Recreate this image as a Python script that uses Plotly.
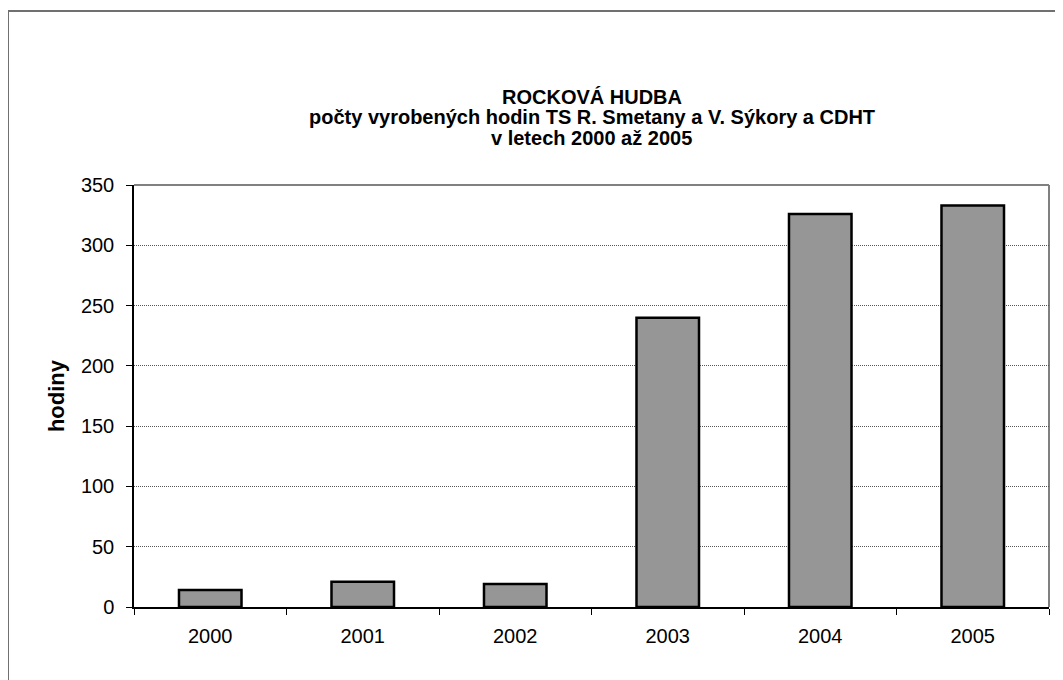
import plotly.graph_objects as go

# data
years = ["2000", "2001", "2002", "2003", "2004", "2005"]
hours = [14, 21, 19, 240, 326, 333]
y_ticks = [0, 50, 100, 150, 200, 250, 300, 350]

title_lines = [
    "ROCKOVÁ HUDBA",
    "počty vyrobených hodin TS R. Smetany a V. Sýkory a CDHT",
    "v letech 2000 až 2005",
]
title_rows_y = [97, 117.5, 138]  # page pixel centres of the title lines

font_family = "Liberation Sans, Arial, sans-serif"

# the html body has an 8px margin, so the figure is shifted by 8px
PAD = 8
PLOT_L, PLOT_R, PLOT_T, PLOT_B = 134, 1049, 185, 607
PW, PH = PLOT_R - PLOT_L, PLOT_B - PLOT_T


def px_x(x):
    return (x - PLOT_L) / PW


def px_y(y):
    return (PLOT_B - y) / PH


fig = go.Figure()
fig.add_trace(go.Bar(
    x=years,
    y=hours,
    marker=dict(color="#969696", line=dict(color="#000000", width=2.5)),
    showlegend=False,
))

fig.update_layout(
    width=1063 - PAD,
    height=680 - PAD,
    paper_bgcolor="white",
    plot_bgcolor="white",
    margin=dict(l=PLOT_L - PAD, r=1063 - PLOT_R, t=PLOT_T - PAD, b=680 - PLOT_B),
    bargap=0.59,
    font=dict(family=font_family, size=20, color="black"),
)

for line, yy in zip(title_lines, title_rows_y):
    fig.add_annotation(
        text="<b>%s</b>" % line,
        xref="paper", yref="paper",
        x=0.5, y=px_y(yy),
        xanchor="center", yanchor="middle",
        showarrow=False,
        font=dict(family=font_family, size=20, color="black"),
    )

fig.update_xaxes(
    type="category",
    showline=True,
    linecolor="black",
    linewidth=1.5,
    ticks="outside",
    tickson="boundaries",
    ticklen=6,
    tickcolor="black",
    showgrid=False,
    ticklabelstandoff=10,
    tickfont=dict(size=20),
)

fig.update_yaxes(
    range=[0, 350],
    tickvals=y_ticks,
    showline=True,
    linecolor="black",
    linewidth=1.5,
    ticks="outside",
    ticklen=6,
    tickcolor="black",
    showgrid=True,
    gridcolor="#555555",
    griddash="1px,1px",
    gridwidth=1,
    zeroline=False,
    ticklabelstandoff=8,
    tickfont=dict(size=20),
    title=dict(text="<b>hodiny</b>", font=dict(size=22), standoff=10),
)

# grey frame of the plot area (top and right sides)
fig.add_shape(type="line", xref="paper", yref="paper", x0=0, x1=1, y0=1, y1=1,
              line=dict(color="#808080", width=2), layer="below")
fig.add_shape(type="line", xref="paper", yref="paper", x0=1, x1=1, y0=0, y1=1,
              line=dict(color="#808080", width=2), layer="below")

# outer chart border (only top and left show inside the picture)
fig.add_shape(type="line", xref="paper", yref="paper",
              x0=px_x(8), x1=px_x(1070), y0=px_y(11), y1=px_y(11),
              line=dict(color="#707070", width=2))
fig.add_shape(type="line", xref="paper", yref="paper",
              x0=px_x(8), x1=px_x(8), y0=px_y(700), y1=px_y(11),
              line=dict(color="#707070", width=2))

fig.write_html("out.html")
